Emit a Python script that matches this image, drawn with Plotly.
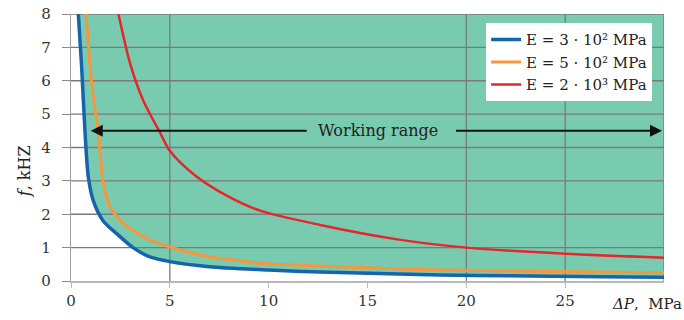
import plotly.graph_objects as go

# ---- data ----
blue_x = [0.37, 0.54, 0.71, 0.88, 1.13, 1.63, 2.31, 3.14, 4.0, 5.0, 7.0, 10.0, 12.6, 16.6, 18.7, 22.0, 26.8, 30.0]
blue_y = [8.0, 6.4, 4.45, 3.1, 2.4, 1.8, 1.42, 1.0, 0.72, 0.58, 0.43, 0.33, 0.27, 0.21, 0.18, 0.16, 0.13, 0.11]

orange_x = [0.76, 1.05, 1.38, 1.64, 1.97, 2.48, 3.66, 5.0, 7.03, 8.55, 9.56, 12.6, 16.65, 18.7, 22.0, 26.8, 30.0]
orange_y = [8.0, 5.93, 4.43, 2.93, 2.24, 1.82, 1.32, 1.02, 0.72, 0.61, 0.53, 0.45, 0.36, 0.33, 0.30, 0.27, 0.25]

red_x = [2.4, 3.0, 3.66, 4.5, 5.0, 6.2, 7.9, 9.6, 12.6, 16.6, 20.0, 25.0, 30.0]
red_y = [8.0, 6.5, 5.4, 4.45, 3.9, 3.2, 2.55, 2.1, 1.68, 1.24, 1.0, 0.82, 0.7]

series_names = ["E = 3 · 10² MPa", "E = 5 · 10² MPa", "E = 2 · 10³ MPa"]
series_colors = ["#1565ad", "#f7963d", "#e8252b"]

x_ticks = [0, 5, 10, 15, 20, 25]
y_ticks = [0, 1, 2, 3, 4, 5, 6, 7, 8]
v_grid = [5, 20, 25, 30]
h_grid = [1, 2, 3, 4, 5, 6, 7, 8]
x_range = [0, 30]
y_range = [0, 8]

arrow_y = 4.5
arrow_left = [1.0, 12.0]
arrow_right = [19.4, 29.9]
label_x = 15.55

SERIF = "DejaVu Serif"
TEAL = "#79cbb0"

fig = go.Figure()

# top boundary for fill
fig.add_trace(go.Scatter(x=[blue_x[0], x_range[1]], y=[y_range[1], y_range[1]],
                         mode="lines", line=dict(width=0), showlegend=False, hoverinfo="skip"))
# teal working-range fill above blue curve
fig.add_trace(go.Scatter(x=blue_x, y=blue_y, mode="lines", line=dict(width=0, shape="spline", smoothing=0.8),
                         fill="tonexty", fillcolor=TEAL, showlegend=False, hoverinfo="skip"))

# gridlines drawn above the fill
gx, gy = [], []
for h in h_grid:
    gx += [x_range[0], x_range[1], None]
    gy += [h, h, None]
for v in v_grid:
    gx += [v, v, None]
    gy += [y_range[0], y_range[1], None]
fig.add_trace(go.Scatter(x=gx, y=gy, mode="lines", line=dict(color="#7a7a7a", width=1.3),
                         showlegend=False, hoverinfo="skip"))

widths = [3.5, 3, 2.5]
for xs, ys, nm, c, w in zip([blue_x, orange_x, red_x], [blue_y, orange_y, red_y],
                            series_names, series_colors, widths):
    fig.add_trace(go.Scatter(x=xs, y=ys, mode="lines", name=nm,
                             line=dict(color=c, width=w, shape="spline", smoothing=0.8)))

# Working range arrows
fig.add_annotation(x=arrow_left[0], y=arrow_y, ax=arrow_left[1], ay=arrow_y,
                   xref="x", yref="y", axref="x", ayref="y", text="",
                   showarrow=True, arrowhead=2, arrowsize=1.2, arrowwidth=2, arrowcolor="#111")
fig.add_annotation(x=arrow_right[1], y=arrow_y, ax=arrow_right[0], ay=arrow_y,
                   xref="x", yref="y", axref="x", ayref="y", text="",
                   showarrow=True, arrowhead=2, arrowsize=1.2, arrowwidth=2, arrowcolor="#111")
fig.add_annotation(x=label_x, y=arrow_y, xref="x", yref="y", text="Working range",
                   showarrow=False, font=dict(family=SERIF, size=16, color="#222"))

# axis titles
fig.add_annotation(x=-0.078, y=0.41, xref="paper", yref="paper", text="<i>f</i>, kHZ",
                   xanchor="center", yanchor="middle",
                   textangle=-90, showarrow=False, font=dict(family=SERIF, size=16, color="#222"))
fig.add_annotation(x=1.034, y=-0.085, xref="paper", yref="paper", text="<i>ΔP</i>,  MPa",
                   xanchor="right", yanchor="middle", showarrow=False,
                   font=dict(family=SERIF, size=15, color="#222"))

fig.update_layout(
    width=684, height=320,
    margin=dict(l=71, r=20, t=14, b=39),
    paper_bgcolor="white", plot_bgcolor="white",
    showlegend=True,
    legend=dict(x=0.70, y=0.965, xanchor="left", yanchor="top",
                bgcolor="white", borderwidth=0, traceorder="normal",
                font=dict(family=SERIF, size=15, color="#222"),
                tracegroupgap=0),
    xaxis=dict(range=x_range, tickvals=x_ticks, showgrid=False, zeroline=False,
               showline=True, linecolor="#b8b8b8", linewidth=2, automargin=False,
               ticks="outside", ticklen=5, tickcolor="#b8b8b8",
               tickfont=dict(family=SERIF, size=15, color="#333")),
    yaxis=dict(range=y_range, tickvals=y_ticks, showgrid=False, zeroline=False,
               showline=True, linecolor="#a0a0a0", linewidth=1.3, automargin=False,
               ticks="outside", ticklen=8, tickcolor="#8a8a8a", ticklabelstandoff=8,
               tickfont=dict(family=SERIF, size=15, color="#333")),
)

fig.write_html("out.html")
